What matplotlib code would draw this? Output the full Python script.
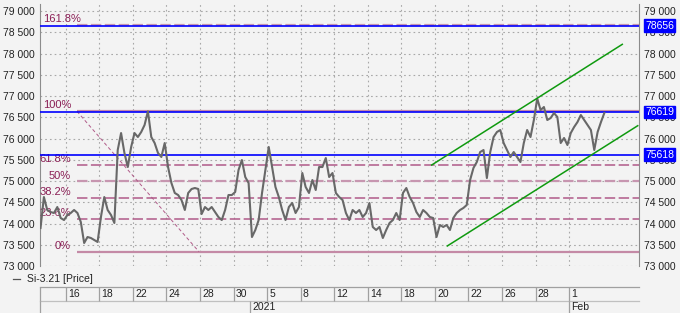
import numpy as np
import matplotlib
matplotlib.use('Agg')
import matplotlib.pyplot as plt
from matplotlib.ticker import FuncFormatter, MultipleLocator

plt.rcParams['font.family'] = ['Liberation Sans', 'DejaVu Sans']
plt.rcParams['lines.scale_dashes'] = False

# Si-3.21 price, sampled every 0.2 trading day from Dec 15 (index 0 = Dec 16)
price = [
    73894, 74623, 74318, 74270, 74247, 74388, 74129, 74082, 74200, 74247, 74318, 74247,
    74035, 73541, 73682, 73659, 73612, 73565, 74153, 74623, 74318, 74200, 74012, 75729,
    76129, 75659, 75329, 75800, 76129, 76035, 76153, 76318, 76640, 76035, 75894, 75659,
    75565, 75894, 75329, 74953, 74718, 74670, 74553, 74318, 74718, 74812, 74835, 74812,
    74223, 74388, 74318, 74388, 74270, 74153, 74082, 74318, 74670, 74670, 74741, 75259,
    75494, 75094, 74953, 73682, 73847, 74082, 74718, 75259, 75800, 75329, 74859, 74623,
    74318, 74082, 74388, 74482, 74247, 74388, 75188, 74859, 74718, 75023, 74788, 75329,
    75329, 75541, 75094, 75188, 74718, 74623, 74553, 74247, 74082, 74318, 74247, 74318,
    74153, 74247, 74482, 73918, 73847, 73918, 73659, 73847, 74012, 74082, 74247, 74082,
    74718, 74835, 74623, 74482, 74270, 74153, 74318, 74247, 74153, 74129, 73682, 73965,
    73918, 73965, 73847, 74129, 74247, 74318, 74365, 74435, 75023, 75306, 75447, 75682,
    75729, 75070, 75682, 76035, 76153, 76200, 75894, 75729, 75565, 75682, 75565, 75447,
    75894, 76200, 76035, 76435, 76940, 76671, 76741, 76435, 76482, 76600, 76506, 75894,
    76012, 75847, 76129, 76271, 76388, 76553, 76435, 76318, 76200, 75729, 76153, 76388, 76600,
]
bar_x = -1.5 + 0.2 * np.arange(len(price))

# date axis (trading-day index)
day_pos = [0, 2, 4, 6, 8, 10, 12, 14, 16, 18, 20, 22, 24, 26, 28, 30]
day_labels = ['16', '18', '22', '24', '28', '30', '5', '8', '12', '14',
              '18', '20', '22', '26', '28', '1']
period_pos = [11, 30]
period_labels = ['2021', 'Feb']

# horizontal levels
blue_levels = [78656, 76619, 75618]
fib_high, fib_low = 76640, 73337
fib_ratios = [0, 0.236, 0.382, 0.5, 0.618, 1.0, 1.618]
fib_names = ['0%', '23.6%', '38.2%', '50%', '61.8%', '100%', '161.8%']
fib_x0, fib_x1 = 0.67, 7.94

# trend channel
chan_upper = ([21.81, 33.17], [75376, 78216])
chan_lower = ([22.74, 34.09], [73471, 76301])

W, H = 680, 313
bg = '#f3f3f3'
fig = plt.figure(figsize=(W / 100, H / 100), dpi=100, facecolor=bg)
L, R, T, B = 40, 639, 4, 266
ax = fig.add_axes([L / W, 1 - B / H, (R - L) / W, (B - T) / H], facecolor=bg)

xmin, xmax = -1.532, 34.166
ax.set_xlim(xmin, xmax)
ax.set_ylim(73000, 79165)

ax.yaxis.set_major_locator(MultipleLocator(500))
ax.yaxis.set_major_formatter(FuncFormatter(lambda v, p: f'{int(v):,}'.replace(',', ' ')))
ax.set_xticks(day_pos)
ax.tick_params(axis='x', length=0, labelbottom=False)
ax.tick_params(axis='y', length=0, labelsize=7.5, colors='#222222', pad=3.6,
               labelleft=True, labelright=True)
ax.grid(True, color='#a8a8a8', linestyle=(0, (1.2, 2.2)), linewidth=0.8)
ax.set_axisbelow(True)
for s in ['top', 'bottom']:
    ax.spines[s].set_visible(False)
for s in ['left', 'right']:
    ax.spines[s].set_color('#8c8c8c')
    ax.spines[s].set_linewidth(0.8)

# fibonacci
rng = fib_high - fib_low
for r, name in zip(fib_ratios, fib_names):
    lv = fib_low + r * rng
    if r in (0, 1.0):
        ax.plot([fib_x0, xmax], [lv, lv], color='#c48aa6', lw=1.6, solid_capstyle='butt', zorder=2)
    elif r in (0.5, 1.618):
        ax.plot([fib_x0, xmax], [lv, lv], color='#c796b0', lw=1.6,
                linestyle=(0, (7.5, 2.5)), zorder=2)
    else:
        ax.plot([fib_x0, xmax], [lv, lv], color='#b05a88', lw=1.1,
                linestyle=(0, (7.5, 2.5)), zorder=2)
    if name == '161.8%':
        ax.annotate(name, xy=(xmin, lv), xytext=(2, 4.3), textcoords='offset points',
                    ha='left', va='center', fontsize=8, color='#8a1f55')
    else:
        ax.annotate(name, xy=(fib_x0, lv), xytext=(-4.3, 4.3), textcoords='offset points',
                    ha='right', va='center', fontsize=8, color='#8a1f55')
ax.plot([fib_x0, fib_x1], [fib_high, fib_low], color='#b05a88', lw=0.7,
        linestyle=(0, (2.5, 1.8)), zorder=2)

# blue levels
for lv in blue_levels:
    ax.axhline(lv, color='#0000ff', lw=1.2, zorder=3)
    ax.annotate(str(lv), xy=(1, lv), xycoords=ax.get_yaxis_transform(),
                xytext=(4.4, 0), textcoords='offset points', ha='left', va='center',
                fontsize=7.5, color='white', annotation_clip=False, zorder=6,
                bbox=dict(boxstyle='square,pad=0.12', fc='#0000ff', ec='#0000ff'))

# price
ax.plot(bar_x, price, color='#686868', lw=1.5, zorder=4)

# channel
ax.plot(*chan_upper, color='#0f9a0f', lw=1.1, zorder=5)
ax.plot(*chan_lower, color='#0f9a0f', lw=1.1, zorder=5)

# legend
fig.lines.append(plt.Line2D([13 / W, 20 / W], [1 - 279 / H] * 2, color='#555555',
                            lw=0.9, transform=fig.transFigure))
fig.text(27 / W, 1 - 279 / H, 'Si-3.21 [Price]', fontsize=7.5, color='#222222',
         va='center', ha='left')

# date band
bt, bm = 287, 300.7
ax2 = fig.add_axes([L / W, 0, (R - L) / W, (H - bt) / H], facecolor=bg)
ax2.set_xlim(xmin, xmax)
ax2.set_ylim(0, 1)
ax2.axis('off')
mid = (H - bm) / (H - bt)
sep = '#a0a0a0'
ax2.axhline(1, color=sep, lw=0.9, clip_on=False)
ax2.axhline(mid, color='#c0c0c0', lw=0.9, clip_on=False)
ax2.vlines([xmin] + day_pos, mid, 1, color=sep, lw=0.9, clip_on=False)
ax2.vlines([xmin] + period_pos, 0, mid, color=sep, lw=0.9, clip_on=False)
for p, lab in zip(day_pos, day_labels):
    ax2.text(p + 0.13, (1 + mid) / 2, lab, fontsize=7.5, color='#222222', ha='left', va='center')
for p, lab in zip(period_pos, period_labels):
    ax2.text(p + 0.13, mid / 2, lab, fontsize=7.5, color='#222222', ha='left', va='center')

fig.savefig('out.png', dpi=100, facecolor=bg)
